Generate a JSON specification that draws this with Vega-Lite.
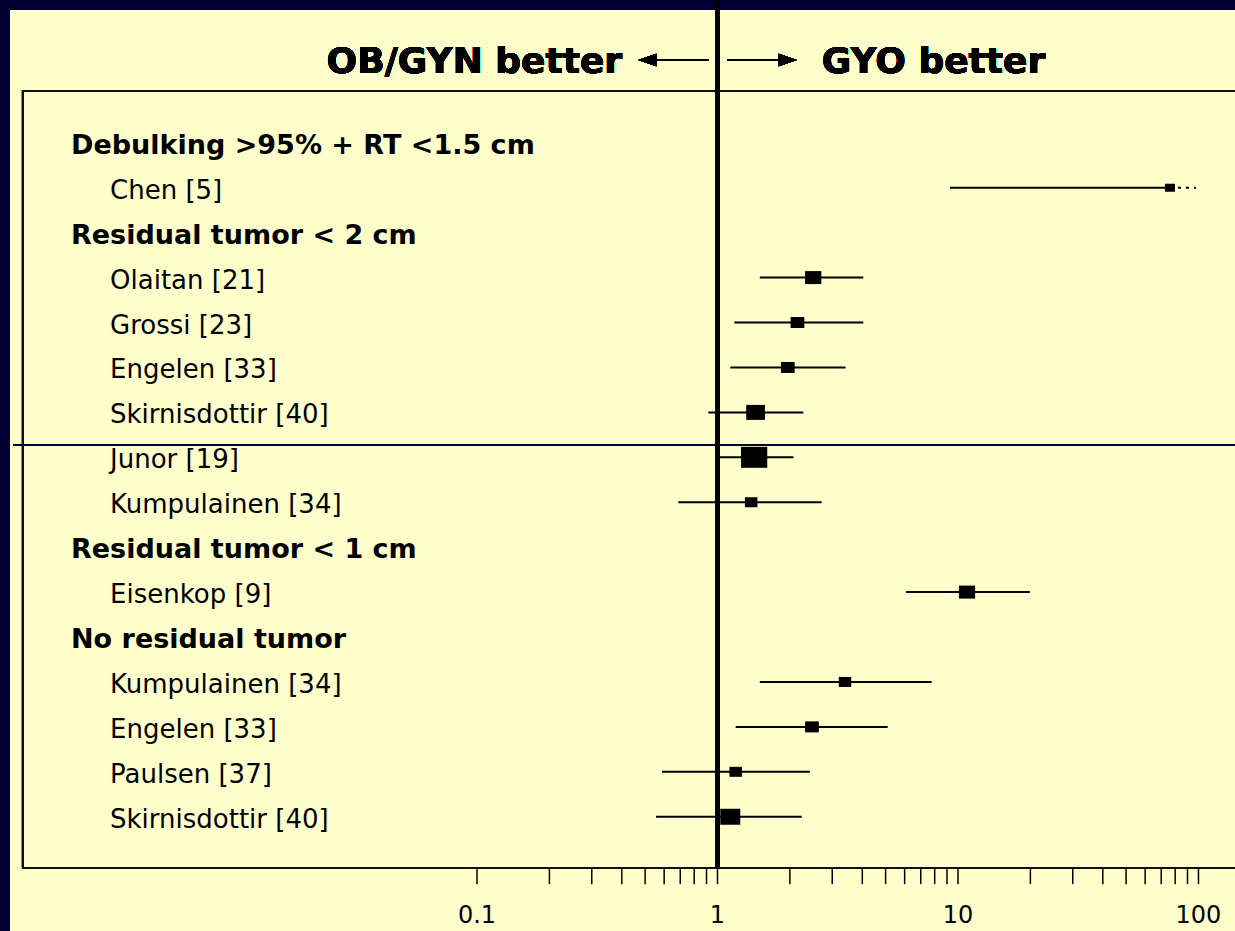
{
  "$schema": "https://vega.github.io/schema/vega-lite/v6.json",
  "width": 1225,
  "height": 921,
  "autosize": {"type": "none"},
  "padding": {"left": 10, "top": 10, "right": 0, "bottom": 0},
  "background": "#000033",
  "view": {"fill": "#FFFFCC", "stroke": null},
  "datasets": {
    "rows": [
      {"row": 1, "label": "Debulking >95% + RT <1.5 cm", "type": "header"},
      {"row": 2, "label": "Chen [5]", "type": "study", "lo": 9.26, "est": 76.1, "hi": 97.6, "weight": 14.5, "truncated": true},
      {"row": 3, "label": "Residual tumor < 2 cm", "type": "header"},
      {"row": 4, "label": "Olaitan [21]", "type": "study", "lo": 1.5, "est": 2.5, "hi": 4.04, "weight": 38.3, "truncated": false},
      {"row": 5, "label": "Grossi [23]", "type": "study", "lo": 1.175, "est": 2.15, "hi": 4.04, "weight": 27.4, "truncated": false},
      {"row": 6, "label": "Engelen [33]", "type": "study", "lo": 1.13, "est": 1.96, "hi": 3.41, "weight": 27.4, "truncated": false},
      {"row": 7, "label": "Skirnisdottir [40]", "type": "study", "lo": 0.916, "est": 1.44, "hi": 2.275, "weight": 51, "truncated": false},
      {"row": 8, "label": "Junor [19]", "type": "study", "lo": 1.0, "est": 1.42, "hi": 2.07, "weight": 100, "truncated": false},
      {"row": 9, "label": "Kumpulainen [34]", "type": "study", "lo": 0.687, "est": 1.38, "hi": 2.71, "weight": 22.7, "truncated": false},
      {"row": 10, "label": "Residual tumor < 1 cm", "type": "header"},
      {"row": 11, "label": "Eisenkop [9]", "type": "study", "lo": 6.08, "est": 10.9, "hi": 19.9, "weight": 38.3, "truncated": false},
      {"row": 12, "label": "No residual tumor", "type": "header"},
      {"row": 13, "label": "Kumpulainen [34]", "type": "study", "lo": 1.5, "est": 3.39, "hi": 7.77, "weight": 22.7, "truncated": false},
      {"row": 14, "label": "Engelen [33]", "type": "study", "lo": 1.19, "est": 2.47, "hi": 5.1, "weight": 27.4, "truncated": false},
      {"row": 15, "label": "Paulsen [37]", "type": "study", "lo": 0.588, "est": 1.19, "hi": 2.42, "weight": 22.7, "truncated": false},
      {"row": 16, "label": "Skirnisdottir [40]", "type": "study", "lo": 0.555, "est": 1.13, "hi": 2.24, "weight": 58, "truncated": false}
    ],
    "ticks": [
      {"v": 0.1}, {"v": 0.2}, {"v": 0.3}, {"v": 0.4}, {"v": 0.5}, {"v": 0.6}, {"v": 0.7}, {"v": 0.8}, {"v": 0.9},
      {"v": 1}, {"v": 2}, {"v": 3}, {"v": 4}, {"v": 5}, {"v": 6}, {"v": 7}, {"v": 8}, {"v": 9},
      {"v": 10}, {"v": 20}, {"v": 30}, {"v": 40}, {"v": 50}, {"v": 60}, {"v": 70}, {"v": 80}, {"v": 90}, {"v": 100}
    ]
  },
  "data": {"name": "rows"},
  "layer": [
    {
      "mark": {"type": "rect", "filled": false, "stroke": "#111111", "strokeWidth": 1.5},
      "encoding": {
        "x": {"datum": 0.001291, "type": "quantitative", "scale": {"type": "log", "domain": [0.001143, 141.85], "nice": false}, "axis": null},
        "x2": {"datum": 200},
        "y": {"datum": -0.1596, "type": "quantitative", "scale": {"domain": [-1.956, 18.543], "reverse": true, "nice": false, "zero": false}, "axis": null},
        "y2": {"datum": 17.141}
      }
    },
    {
      "mark": {"type": "rule", "stroke": "#000033", "strokeWidth": 1.5},
      "encoding": {
        "x": {"datum": 0.001177, "type": "quantitative", "scale": {"type": "log", "domain": [0.001143, 141.85], "nice": false}, "axis": null},
        "x2": {"datum": 200},
        "y": {"datum": 7.733, "type": "quantitative", "scale": {"domain": [-1.956, 18.543], "reverse": true, "nice": false, "zero": false}, "axis": null}
      }
    },
    {
      "mark": {"type": "rule", "stroke": "#000000", "strokeWidth": 3.5},
      "encoding": {
        "x": {"datum": 1, "type": "quantitative", "scale": {"type": "log", "domain": [0.001143, 141.85], "nice": false}, "axis": null},
        "y": {"datum": -2.3, "type": "quantitative", "scale": {"domain": [-1.956, 18.543], "reverse": true, "nice": false, "zero": false}, "axis": null},
        "y2": {"datum": 17.141}
      }
    },
    {
      "data": {"name": "ticks"},
      "mark": {"type": "rule", "stroke": "#000000", "strokeWidth": 1.5},
      "encoding": {
        "x": {"field": "v", "type": "quantitative", "scale": {"type": "log", "domain": [0.001143, 141.85], "nice": false}, "axis": null},
        "y": {"datum": 17.141, "type": "quantitative", "scale": {"domain": [-1.956, 18.543], "reverse": true, "nice": false, "zero": false}, "axis": null},
        "y2": {"datum": 17.5}
      }
    },
    {
      "data": {"name": "ticks"},
      "transform": [{"filter": "datum.v == 0.1 || datum.v == 1 || datum.v == 10 || datum.v == 100"}],
      "mark": {"type": "text", "align": "center", "baseline": "middle", "font": "DejaVu Sans", "fontSize": 24, "color": "#000000"},
      "encoding": {
        "x": {"field": "v", "type": "quantitative", "scale": {"type": "log", "domain": [0.001143, 141.85], "nice": false}, "axis": null},
        "y": {"datum": 18.21, "type": "quantitative", "scale": {"domain": [-1.956, 18.543], "reverse": true, "nice": false, "zero": false}, "axis": null},
        "text": {"field": "v", "type": "quantitative", "format": "~g"}
      }
    },
    {
      "transform": [{"filter": "datum.type == 'study' && !datum.truncated"}],
      "mark": {"type": "rule", "stroke": "#000000", "strokeWidth": 2},
      "encoding": {
        "x": {"field": "lo", "type": "quantitative", "scale": {"type": "log", "domain": [0.001143, 141.85], "nice": false}, "axis": null},
        "x2": {"field": "hi"},
        "y": {"field": "row", "type": "quantitative", "scale": {"domain": [-1.956, 18.543], "reverse": true, "nice": false, "zero": false}, "axis": null}
      }
    },
    {
      "transform": [{"filter": "datum.type == 'study' && datum.truncated"}],
      "mark": {"type": "rule", "stroke": "#000000", "strokeWidth": 2},
      "encoding": {
        "x": {"field": "lo", "type": "quantitative", "scale": {"type": "log", "domain": [0.001143, 141.85], "nice": false}, "axis": null},
        "x2": {"field": "est"},
        "y": {"field": "row", "type": "quantitative", "scale": {"domain": [-1.956, 18.543], "reverse": true, "nice": false, "zero": false}, "axis": null}
      }
    },
    {
      "transform": [{"filter": "datum.type == 'study' && datum.truncated"}],
      "mark": {"type": "rule", "stroke": "#000000", "strokeWidth": 2, "strokeDash": [3, 5]},
      "encoding": {
        "x": {"field": "est", "type": "quantitative", "scale": {"type": "log", "domain": [0.001143, 141.85], "nice": false}, "axis": null},
        "x2": {"field": "hi"},
        "y": {"field": "row", "type": "quantitative", "scale": {"domain": [-1.956, 18.543], "reverse": true, "nice": false, "zero": false}, "axis": null}
      }
    },
    {
      "transform": [{"filter": "datum.type == 'study'"}],
      "mark": {"type": "point", "shape": "M-1.25,-1L1.25,-1L1.25,1L-1.25,1Z", "filled": true, "fill": "#000000", "opacity": 1, "strokeWidth": 0},
      "encoding": {
        "x": {"field": "est", "type": "quantitative", "scale": {"type": "log", "domain": [0.001143, 141.85], "nice": false}, "axis": null},
        "y": {"field": "row", "type": "quantitative", "scale": {"domain": [-1.956, 18.543], "reverse": true, "nice": false, "zero": false}, "axis": null},
        "size": {"field": "weight", "type": "quantitative", "scale": {"type": "linear", "domain": [0, 100], "range": [0, 441]}, "legend": null}
      }
    },
    {
      "transform": [{"filter": "datum.type == 'header'"}],
      "mark": {"type": "text", "align": "left", "baseline": "middle", "dy": 3, "font": "DejaVu Sans", "fontSize": 27, "fontWeight": "bold", "color": "#000000"},
      "encoding": {
        "x": {"datum": 0.00205, "type": "quantitative", "scale": {"type": "log", "domain": [0.001143, 141.85], "nice": false}, "axis": null},
        "y": {"field": "row", "type": "quantitative", "scale": {"domain": [-1.956, 18.543], "reverse": true, "nice": false, "zero": false}, "axis": null},
        "text": {"field": "label"}
      }
    },
    {
      "transform": [{"filter": "datum.type == 'study'"}],
      "mark": {"type": "text", "align": "left", "baseline": "middle", "dy": 3, "font": "DejaVu Sans", "fontSize": 26, "color": "#000000"},
      "encoding": {
        "x": {"datum": 0.002979, "type": "quantitative", "scale": {"type": "log", "domain": [0.001143, 141.85], "nice": false}, "axis": null},
        "y": {"field": "row", "type": "quantitative", "scale": {"domain": [-1.956, 18.543], "reverse": true, "nice": false, "zero": false}, "axis": null},
        "text": {"field": "label"}
      }
    },
    {
      "mark": {"type": "text", "text": "OB/GYN better", "align": "right", "baseline": "middle", "dy": 2, "font": "DejaVu Sans", "fontSize": 36, "fontWeight": "bold", "color": "#000000"},
      "encoding": {
        "x": {"datum": 0.401, "type": "quantitative", "scale": {"type": "log", "domain": [0.001143, 141.85], "nice": false}, "axis": null},
        "y": {"datum": -0.843, "type": "quantitative", "scale": {"domain": [-1.956, 18.543], "reverse": true, "nice": false, "zero": false}, "axis": null}
      }
    },
    {
      "mark": {"type": "text", "text": "GYO better", "align": "left", "baseline": "middle", "dy": 2, "font": "DejaVu Sans", "fontSize": 36, "fontWeight": "bold", "color": "#000000"},
      "encoding": {
        "x": {"datum": 2.713, "type": "quantitative", "scale": {"type": "log", "domain": [0.001143, 141.85], "nice": false}, "axis": null},
        "y": {"datum": -0.843, "type": "quantitative", "scale": {"domain": [-1.956, 18.543], "reverse": true, "nice": false, "zero": false}, "axis": null}
      }
    },
    {
      "mark": {"type": "rule", "stroke": "#000000", "strokeWidth": 2},
      "encoding": {
        "x": {"datum": 0.5106, "type": "quantitative", "scale": {"type": "log", "domain": [0.001143, 141.85], "nice": false}, "axis": null},
        "x2": {"datum": 0.9157},
        "y": {"datum": -0.843, "type": "quantitative", "scale": {"domain": [-1.956, 18.543], "reverse": true, "nice": false, "zero": false}, "axis": null}
      }
    },
    {
      "mark": {"type": "rule", "stroke": "#000000", "strokeWidth": 2},
      "encoding": {
        "x": {"datum": 1.102, "type": "quantitative", "scale": {"type": "log", "domain": [0.001143, 141.85], "nice": false}, "axis": null},
        "x2": {"datum": 1.958},
        "y": {"datum": -0.843, "type": "quantitative", "scale": {"domain": [-1.956, 18.543], "reverse": true, "nice": false, "zero": false}, "axis": null}
      }
    },
    {
      "mark": {"type": "point", "shape": "M1,-0.7L-1,0L1,0.7Z", "filled": true, "fill": "#000000", "opacity": 1, "strokeWidth": 0, "size": 324},
      "encoding": {
        "x": {"datum": 0.5106, "type": "quantitative", "scale": {"type": "log", "domain": [0.001143, 141.85], "nice": false}, "axis": null},
        "y": {"datum": -0.843, "type": "quantitative", "scale": {"domain": [-1.956, 18.543], "reverse": true, "nice": false, "zero": false}, "axis": null}
      }
    },
    {
      "mark": {"type": "point", "shape": "M-1,-0.7L1,0L-1,0.7Z", "filled": true, "fill": "#000000", "opacity": 1, "strokeWidth": 0, "size": 324},
      "encoding": {
        "x": {"datum": 1.958, "type": "quantitative", "scale": {"type": "log", "domain": [0.001143, 141.85], "nice": false}, "axis": null},
        "y": {"datum": -0.843, "type": "quantitative", "scale": {"domain": [-1.956, 18.543], "reverse": true, "nice": false, "zero": false}, "axis": null}
      }
    }
  ]
}
